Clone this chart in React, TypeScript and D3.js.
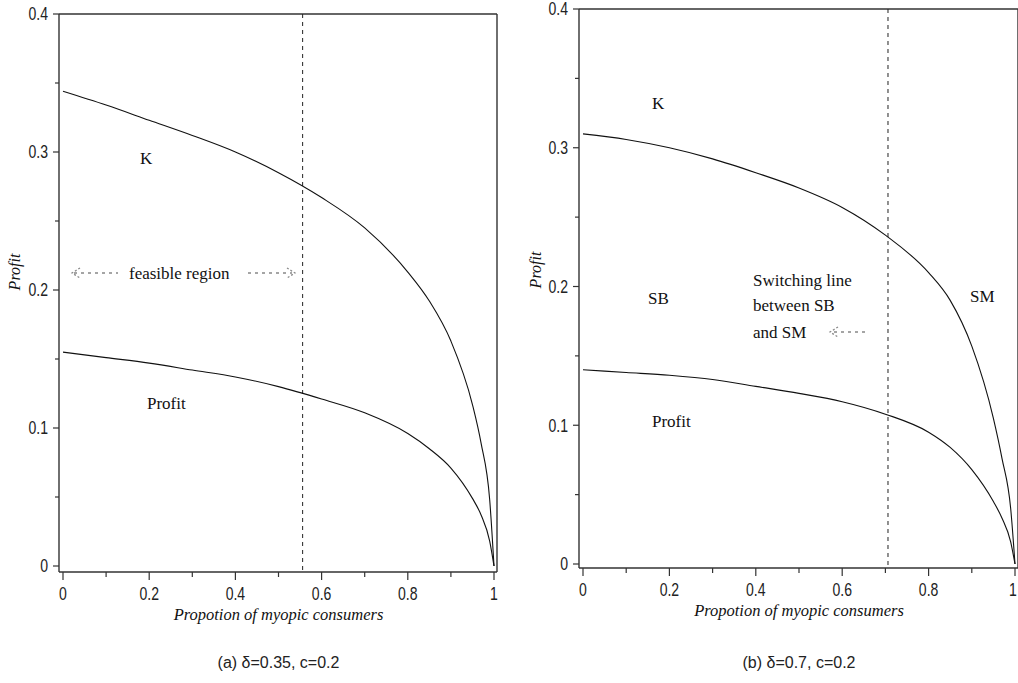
import React from "react";
import * as d3 from "d3";

// ---- data ----
const xGrid = [0, 0.1, 0.2, 0.3, 0.4, 0.5, 0.6, 0.7, 0.8, 0.85, 0.9, 0.95, 0.97, 0.99, 1.0];
const kLeft = [0.344, 0.334, 0.323, 0.312, 0.300, 0.285, 0.267, 0.245, 0.213, 0.192, 0.163, 0.117, 0.089, 0.048, 0.0];
const profitLeft = [0.155, 0.151, 0.147, 0.142, 0.137, 0.130, 0.121, 0.111, 0.096, 0.085, 0.071, 0.049, 0.037, 0.018, 0.0];
const kRight = [0.310, 0.306, 0.300, 0.292, 0.282, 0.271, 0.257, 0.237, 0.210, 0.190, 0.157, 0.105, 0.076, 0.040, 0.0];
const profitRight = [0.140, 0.138, 0.136, 0.133, 0.128, 0.123, 0.117, 0.108, 0.095, 0.084, 0.068, 0.045, 0.033, 0.016, 0.0];
const switchLeft = 0.556;
const switchRight = 0.706;
const xMajorTicks = [0, 0.2, 0.4, 0.6, 0.8, 1];
const xMinorTicks = [0.1, 0.3, 0.5, 0.7, 0.9];
const yMajorTicks = [0, 0.1, 0.2, 0.3, 0.4];
const yMinorTicks = [0.05, 0.15, 0.25, 0.35];
const xTitle = "Propotion of myopic consumers";
const yTitle = "Profit";
const captionLeft = "(a) δ=0.35, c=0.2";
const captionRight = "(b) δ=0.7, c=0.2";

const tickFont = "'Liberation Sans',Arial,sans-serif";
const serif = "'Liberation Serif','DejaVu Serif',serif";
const sans = "'Liberation Sans',Arial,sans-serif";

type PanelProps = {
  x0: number; x1: number; y0: number; y1: number;
  axisX: number; axisY: number; topY: number; rightX: number;
  k: number[]; profit: number[]; sw: number;
  yTitleX: number; yTitleY: number;
  caption: string; captionY: number;
  children?: React.ReactNode;
};

function NarrowText({ x, y, anchor, children }: { x: number; y: number; anchor: string; children: React.ReactNode }) {
  return (
    <text transform={`translate(${x},${y}) scale(0.78,1)`} dy="0.36em" textAnchor={anchor as any}
      fontFamily={tickFont} fontSize={18} fill="#222">{children}</text>
  );
}

function Panel(p: PanelProps) {
  const xs = d3.scaleLinear().domain([0, 1]).range([p.x0, p.x1]);
  const ys = d3.scaleLinear().domain([0, 0.4]).range([p.y0, p.y1]);
  const line = d3.line<number>().x((_, i) => xs(xGrid[i])).y((d) => ys(d)).curve(d3.curveMonotoneX);
  const axisColor = "#333";
  const cx = (p.x0 + p.x1) / 2;
  return (
    <g>
      {/* frame */}
      <line x1={p.axisX} x2={p.axisX} y1={p.topY} y2={p.axisY} stroke={axisColor} strokeWidth={1.4} />
      <line x1={p.axisX} x2={p.rightX} y1={p.axisY} y2={p.axisY} stroke={axisColor} strokeWidth={1.4} />
      <line x1={p.axisX} x2={p.rightX} y1={p.topY} y2={p.topY} stroke={axisColor} strokeWidth={1.4} />
      <line x1={p.rightX} x2={p.rightX} y1={p.topY} y2={p.axisY} stroke={axisColor} strokeWidth={1.4} />
      {/* y ticks */}
      {yMajorTicks.map((t) => (
        <g key={"ym" + t}>
          <line x1={p.axisX - 6} x2={p.axisX} y1={ys(t)} y2={ys(t)} stroke={axisColor} strokeWidth={1.2} />
          <NarrowText x={p.axisX - 11} y={ys(t)} anchor="end">{d3.format("")(t)}</NarrowText>
        </g>
      ))}
      {yMinorTicks.map((t) => (
        <line key={"yn" + t} x1={p.axisX - 4} x2={p.axisX} y1={ys(t)} y2={ys(t)} stroke={axisColor} strokeWidth={1.2} />
      ))}
      {/* x ticks */}
      {xMajorTicks.map((t) => (
        <g key={"xm" + t}>
          <line x1={xs(t)} x2={xs(t)} y1={p.axisY} y2={p.axisY + 8} stroke={axisColor} strokeWidth={1.2} />
          <NarrowText x={Math.min(xs(t), 1013)} y={p.axisY + 22} anchor="middle">{d3.format("")(t)}</NarrowText>
        </g>
      ))}
      {xMinorTicks.map((t) => (
        <line key={"xn" + t} x1={xs(t)} x2={xs(t)} y1={p.axisY} y2={p.axisY + 5} stroke={axisColor} strokeWidth={1.2} />
      ))}
      {/* dashed switching line */}
      <line x1={xs(p.sw)} x2={xs(p.sw)} y1={p.topY} y2={p.axisY} stroke="#222" strokeWidth={1} strokeDasharray="4,4" />
      {/* curves */}
      <path d={line(p.k) || ""} fill="none" stroke="#111" strokeWidth={1.1} />
      <path d={line(p.profit) || ""} fill="none" stroke="#111" strokeWidth={1.1} />
      {/* titles */}
      <text x={cx} y={p.axisY + 48} textAnchor="middle" fontFamily={serif} fontStyle="italic" fontSize={16.5} fill="#111">{xTitle}</text>
      <text transform={`translate(${p.yTitleX},${p.yTitleY}) rotate(-90)`} textAnchor="middle" fontFamily={serif} fontStyle="italic" fontSize={16} fill="#111">{yTitle}</text>
      <text x={cx} y={p.captionY} textAnchor="middle" fontFamily={sans} fontSize={16} fill="#222">{p.caption}</text>
      {p.children}
    </g>
  );
}

const arrowColor = "#888";

export default function App() {
  return (
    <svg width={1018} height={683} style={{ position: "absolute", left: 0, top: 0, background: "#fff" }}>
      <Panel x0={63} x1={494} y0={566} y1={14} axisX={59} axisY={572} topY={14} rightX={497}
        k={kLeft} profit={profitLeft} sw={switchLeft} yTitleX={20} yTitleY={272}
        caption={captionLeft} captionY={668}>
        <g fontFamily={serif} fontSize={17} fill="#111">
          <text x={140} y={164}>K</text>
          <text x={147} y={409}>Profit</text>
          <text x={129} y={279}>feasible region</text>
          <line x1={74} x2={118} y1={273} y2={273} stroke={arrowColor} strokeWidth={1.3} strokeDasharray="3,4" />
          <path d="M80,268 L72,273 L80,278" fill="none" stroke={arrowColor} strokeWidth={1.3} strokeDasharray="2,2" />
          <line x1={248} x2={292} y1={273} y2={273} stroke={arrowColor} strokeWidth={1.3} strokeDasharray="3,4" />
          <path d="M287,268 L295,273 L287,278" fill="none" stroke={arrowColor} strokeWidth={1.3} strokeDasharray="2,2" />
        </g>
      </Panel>
      <Panel x0={583} x1={1015} y0={564} y1={9} axisX={579} axisY={568} topY={9} rightX={1018}
        k={kRight} profit={profitRight} sw={switchRight} yTitleX={541} yTitleY={270}
        caption={captionRight} captionY={668}>
        <g fontFamily={serif} fontSize={17} fill="#111">
          <text x={652} y={109}>K</text>
          <text x={648} y={304}>SB</text>
          <text x={970} y={302}>SM</text>
          <text x={652} y={427}>Profit</text>
          <text x={753} y={286}>Switching line</text>
          <text x={753} y={311}>between SB</text>
          <text x={753} y={338}>and SM</text>
          <line x1={834} x2={868} y1={332} y2={332} stroke={arrowColor} strokeWidth={1.3} strokeDasharray="3,4" />
          <path d="M838,327 L830,332 L838,337" fill="none" stroke={arrowColor} strokeWidth={1.3} strokeDasharray="2,2" />
        </g>
      </Panel>
    </svg>
  );
}
